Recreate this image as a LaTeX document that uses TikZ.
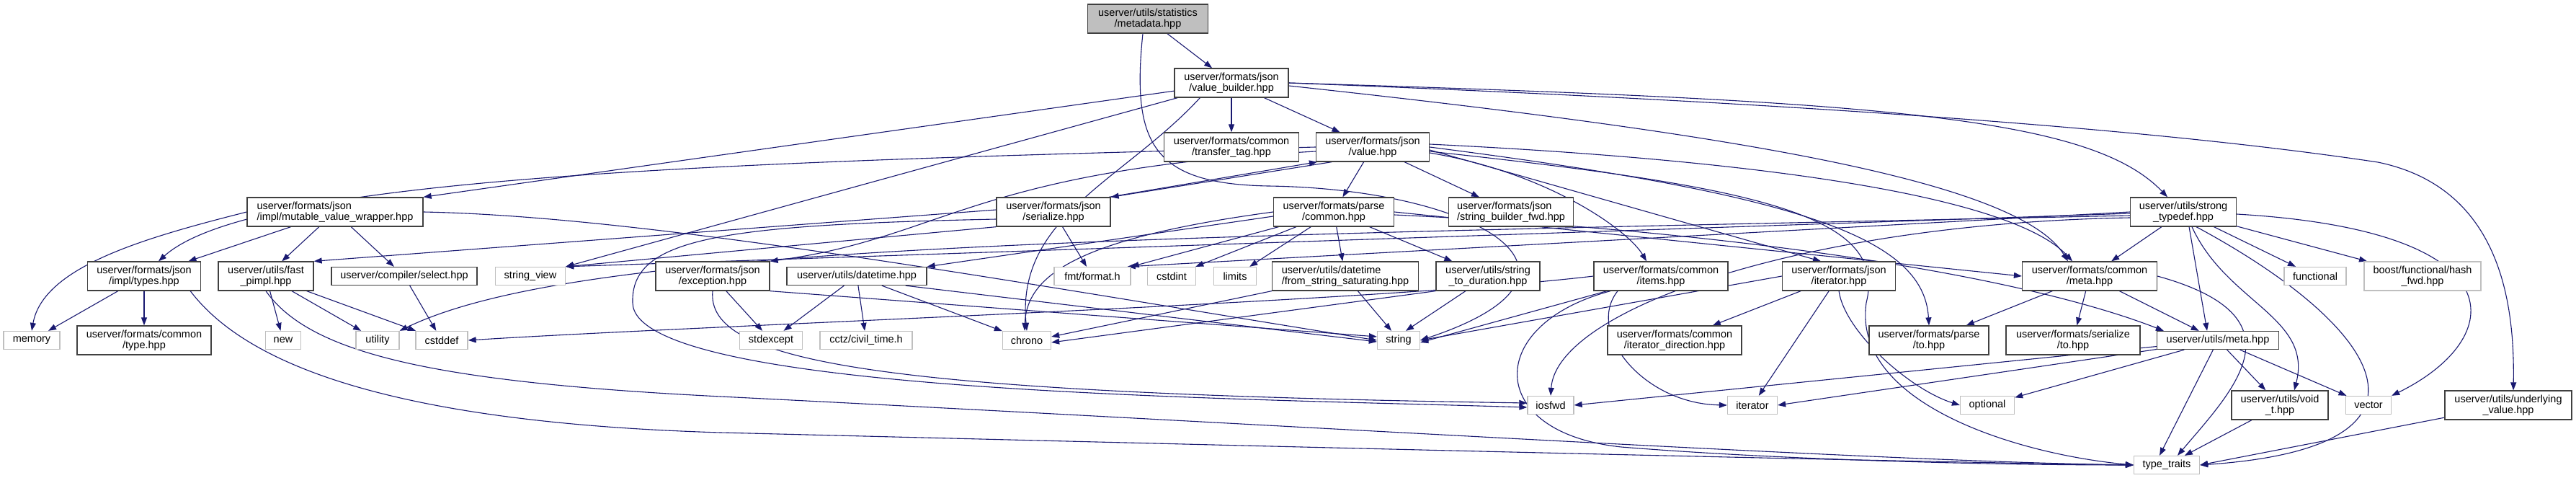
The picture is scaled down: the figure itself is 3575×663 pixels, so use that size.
\documentclass[tikz,border=0pt]{standalone}
\usepackage{fontspec}
\setmainfont{Liberation Sans}
\usetikzlibrary{arrows.meta,backgrounds}
\definecolor{edgec}{HTML}{191970}
\definecolor{bdark}{HTML}{404040}
\definecolor{blight}{HTML}{BFBFBF}
\begin{document}
\begin{tikzpicture}[x=1pt,y=-1pt,
  font=\fontsize{14.5}{15}\selectfont,
  sz/.style 2 args={minimum width=#1, minimum height=#2},
  dn/.style={draw=bdark, line width=1.3pt, fill=white, inner sep=0pt, align=center},
  sn/.style={draw=blight, line width=1.3pt, fill=white, inner sep=0pt, align=center},
  rootn/.style={dn, fill=blight},
  edg/.style={draw=edgec, line width=1.1pt, -{Triangle[length=11pt,width=8pt]}}]
\useasboundingbox (0,0) rectangle (3575,663);
% row 1
\node[rootn, sz={167}{40}] (md) at (1593,26) {userver/utils/statistics\\/metadata.hpp};
% row 2
\node[dn, sz={158}{40}] (vb) at (1709,115) {userver/formats/json\\/value\_builder.hpp};
% row 3
\node[dn, sz={187}{40}] (tft) at (1709,204) {userver/formats/common\\/transfer\_tag.hpp};
\node[dn, sz={157}{40}] (val) at (1905,204) {userver/formats/json\\/value.hpp};
% row 4
\node[dn, sz={244}{40}, align=left] (mvw) at (465,294) {userver/formats/json\\/impl/mutable\_value\_wrapper.hpp};
\node[dn, sz={158}{40}] (ser) at (1462,294) {userver/formats/json\\/serialize.hpp};
\node[dn, sz={167}{40}] (pc) at (1851,294) {userver/formats/parse\\/common.hpp};
\node[dn, sz={173}{40}, align=left] (sbf) at (2097,294) {userver/formats/json\\/string\_builder\_fwd.hpp};
\node[dn, sz={147}{40}] (st) at (3030,294) {userver/utils/strong\\\_typedef.hpp};
% row 5
\node[dn, sz={157}{40}] (typ) at (200,383) {userver/formats/json\\/impl/types.hpp};
\node[dn, sz={132}{40}] (fp) at (369,383) {userver/utils/fast\\\_pimpl.hpp};
\node[dn, sz={202}{25}] (sel) at (561,383) {userver/compiler/select.hpp};
\node[sn, sz={97}{25}] (sv) at (736,383) {string\_view};
\node[dn, sz={158}{40}] (exc) at (989,383) {userver/formats/json\\/exception.hpp};
\node[dn, sz={194}{25}] (dt) at (1189,383) {userver/utils/datetime.hpp};
\node[sn, sz={106}{25}] (fmt) at (1516,383) {fmt/format.h};
\node[sn, sz={67}{25}] (cint) at (1626,383) {cstdint};
\node[sn, sz={59}{25}] (lim) at (1714,383) {limits};
\node[dn, sz={203}{40}, align=left] (fss) at (1867,383) {userver/utils/datetime\\/from\_string\_saturating.hpp};
\node[dn, sz={144}{40}] (s2d) at (2065,383) {userver/utils/string\\\_to\_duration.hpp};
\node[dn, sz={186}{40}] (itm) at (2305,383) {userver/formats/common\\/items.hpp};
\node[dn, sz={157}{40}] (jit) at (2552,383) {userver/formats/json\\/iterator.hpp};
\node[dn, sz={187}{40}] (cm) at (2900,383) {userver/formats/common\\/meta.hpp};
\node[sn, sz={86}{25}] (fun) at (3213,383) {functional};
\node[sn, sz={162}{40}] (bh) at (3362,383) {boost/functional/hash\\\_fwd.hpp};
% row 6
\node[sn, sz={78}{25}] (mem) at (44,472) {memory};
\node[dn, sz={186}{40}] (ctp) at (200,472) {userver/formats/common\\/type.hpp};
\node[sn, sz={49}{25}] (new) at (393,472) {new};
\node[sn, sz={60}{25}] (utl) at (524,472) {utility};
\node[sn, sz={72}{25}] (csd) at (613,472) {cstddef};
\node[sn, sz={87}{25}] (sex) at (1070,472) {stdexcept};
\node[sn, sz={128}{25}] (cctz) at (1202,472) {cctz/civil\_time.h};
\node[sn, sz={67}{25}] (chr) at (1425,472) {chrono};
\node[sn, sz={59}{25}] (str) at (1941,472) {string};
\node[dn, sz={186}{40}] (idir) at (2324,472) {userver/formats/common\\/iterator\_direction.hpp};
\node[dn, sz={166}{40}] (pto) at (2677,472) {userver/formats/parse\\/to.hpp};
\node[dn, sz={186}{40}] (sto) at (2877,472) {userver/formats/serialize\\/to.hpp};
\node[dn, sz={169}{25}] (um) at (3078,472) {userver/utils/meta.hpp};
% row 7
\node[sn, sz={64}{25}] (iof) at (2152,562) {iosfwd};
\node[sn, sz={69}{25}] (itr) at (2432,562) {iterator};
\node[sn, sz={75}{25}] (opt) at (2758,562) {optional};
\node[dn, sz={134}{40}] (vt) at (3164,562) {userver/utils/void\\\_t.hpp};
\node[sn, sz={63}{25}] (vec) at (3287,562) {vector};
\node[dn, sz={176}{40}] (uv) at (3481,562) {userver/utils/underlying\\\_value.hpp};
% row 8
\node[sn, sz={91}{25}] (ttr) at (3007,645) {type\_traits};

\begin{scope}[on background layer]
% metadata
\draw[edg] (md) -- (vb);
\draw[edg] ([xshift=-7pt]md.south) .. controls (1570,200) and (1600,255) .. (1760,258) .. controls (2050,262) and (2250,380) .. (str.east);
% value_builder
\draw[edg] (vb) -- (mvw.north east);
\draw[edg] (vb) -- (sv.north east);
\draw[edg] ([xshift=36pt]vb.south west) .. controls (1560,250) and (1410,300) .. (chr.north);
\draw[edg] (vb) -- (tft);
\draw[edg] (vb) -- (val);
\draw[edg] (vb.east) .. controls (2600,140) and (2900,160) .. ([xshift=-22pt]st.north);
\draw[edg] (vb.east) .. controls (2700,150) and (3100,195) .. (3300,225) .. controls (3470,260) and (3490,420) .. ([xshift=7pt]uv.north);
\draw[edg] ([yshift=-4pt]vb.east) .. controls (2400,185) and (2800,250) .. ([xshift=-30pt]cm.north);
% value
\draw[edg] (val.200) -- (ser.north east);
\draw[edg] (ser.15) -- (val.195);
\draw[edg] (val.west) .. controls (1000,225) and (350,245) .. ([xshift=20pt]typ.north);
\draw[edg] ([yshift=-6pt]val.west) .. controls (1350,235) and (1310,330) .. (exc.north east);
\draw[edg] (val) -- (pc);
\draw[edg] (val) -- (sbf);
\draw[edg] ([yshift=4pt]val.east) .. controls (2500,225) and (2800,280) .. ([xshift=-24pt]cm.north);
\draw[edg] (val.east) .. controls (2500,270) and (2670,330) .. (pto.north);
\draw[edg] ([yshift=-4pt]val.east) -- ([xshift=-25pt]jit.north);
\draw[edg] ([yshift=-8pt]val.east) .. controls (2150,240) and (2260,320) .. ([xshift=-20pt]itm.north);
\draw[edg] ([yshift=-6pt]val.east) .. controls (2450,260) and (2620,300) .. (2590,420) .. controls (2570,560) and (2800,630) .. (ttr.west);
% serialize
\draw[edg] ([yshift=3pt]ser.west) -- (fp.north east);
\draw[edg] (ser.south west) -- (sv.north east);
\draw[edg] (ser) -- (fmt);
\draw[edg] ([yshift=-10pt]ser.west) .. controls (1000,312) and (875,330) .. (878,420) .. controls (880,545) and (1700,552) .. ([yshift=-3pt]iof.west);
% exception
\draw[edg] (exc) -- (sex);
\draw[edg] (exc.south east) -- ([yshift=5pt]str.west);
\draw[edg] (exc.south) .. controls (980,500) and (1200,545) .. ([yshift=3pt]iof.west);
% datetime
\draw[edg] (dt) -- (sex);
\draw[edg] (dt) -- (cctz);
\draw[edg] (dt) -- (chr);
\draw[edg] ([xshift=-30pt]dt.south east) -- ([yshift=-2pt]str.west);
% parse/common
\draw[edg] ([yshift=-6pt]pc.west) -- (dt.north east);
\draw[edg] (pc) -- (fmt.north east);
\draw[edg] (pc) -- (cint);
\draw[edg] (pc) -- (lim);
\draw[edg] (pc) -- (fss);
\draw[edg] (pc) -- (s2d);
\draw[edg] (pc.west) .. controls (1500,330) and (1425,380) .. ([xshift=-3pt]chr.north);
\draw[edg] (pc.east) -- (cm.west);
\draw[edg] ([yshift=-4pt]pc.east) .. controls (2400,320) and (2800,380) .. ([xshift=10pt]um.north west);
% from_string_saturating, string_to_duration
\draw[edg] (fss) -- ([xshift=-10pt]str.north);
\draw[edg] (fss.south west) -- ([yshift=5pt]chr.east);
\draw[edg] (s2d) -- ([xshift=10pt]str.north);
\draw[edg] (s2d.south west) -- ([yshift=-3pt]chr.east);
% items
\draw[edg] (itm.west) .. controls (1900,420) and (1000,450) .. (csd.east);
\draw[edg] (itm) -- ([yshift=-3pt]str.east);
\draw[edg] ([xshift=-60pt]itm.south) .. controls (2200,460) and (2280,560) .. (itr.west);
\draw[edg] ([xshift=-70pt]itm.south) .. controls (2060,450) and (2060,600) .. (2250,620) .. controls (2500,640) and (2800,645) .. (ttr.west);
% json/iterator
\draw[edg] (jit.west) -- (str.east);
\draw[edg] (jit) -- (idir);
\draw[edg] (jit) -- (itr);
\draw[edg] (jit.south) .. controls (2560,460) and (2650,540) .. (opt.west);
% common/meta
\draw[edg] (cm) -- (pto);
\draw[edg] (cm) -- (sto);
\draw[edg] (cm) -- (um);
\draw[edg] (cm.east) .. controls (3200,440) and (3100,540) .. ([xshift=15pt]ttr.north);
% strong_typedef
\draw[edg] (st) -- (cm);
\draw[edg] ([xshift=8pt]st.south) -- ([xshift=-15pt]um.north);
\draw[edg] ([xshift=12pt]st.south) .. controls (3090,420) and (3210,440) .. ([xshift=20pt]vt.north);
\draw[edg] ([xshift=18pt]st.south) .. controls (3300,450) and (3420,620) .. (ttr.east);
\draw[edg] (st) -- (fun);
\draw[edg] (st) -- (bh);
\draw[edg] ([yshift=-3pt]st.east) .. controls (3500,320) and (3480,470) .. (vec.north east);
\draw[edg] (st.west) -- ([xshift=-5pt]fmt.north east);
\draw[edg] ([yshift=-2pt]st.west) -- (sv.north east);
\draw[edg] ([yshift=-5pt]st.west) .. controls (1500,330) and (800,340) .. (utl.north east);
\draw[edg] ([yshift=-8pt]st.west) .. controls (2500,310) and (2160,430) .. (iof.north);
% utils/meta
\draw[edg] (um) -- (iof.east);
\draw[edg] (um) -- (itr.east);
\draw[edg] (um) -- (opt);
\draw[edg] (um) -- ([xshift=-10pt]ttr.north);
\draw[edg] (um) -- (vt);
\draw[edg] (um) -- (vec);
\draw[edg] (vt) -- (ttr);
\draw[edg] (uv) -- (ttr.east);
% mutable_value_wrapper
\draw[edg] (mvw) -- (typ);
\draw[edg] (mvw) -- (fp);
\draw[edg] (mvw) -- (sel);
\draw[edg] (mvw.west) .. controls (200,330) and (60,370) .. (mem.north);
\draw[edg] (mvw.east) .. controls (900,300) and (1400,390) .. (str.west);
% types
\draw[edg] (typ) -- (mem);
\draw[edg] (typ) -- (ctp);
\draw[edg] ([xshift=-15pt]typ.south east) .. controls (330,490) and (500,585) .. (1000,600) .. controls (1800,620) and (2600,640) .. (ttr.west);
% fast_pimpl
\draw[edg] (fp) -- (new);
\draw[edg] (fp) -- (utl);
\draw[edg] (fp) -- (csd);
\draw[edg] (fp.south) .. controls (430,490) and (600,530) .. (1000,550) .. controls (1800,590) and (2600,640) .. (ttr.west);
% select
\draw[edg] (sel) -- (csd);
\end{scope}
\end{tikzpicture}
\end{document}
